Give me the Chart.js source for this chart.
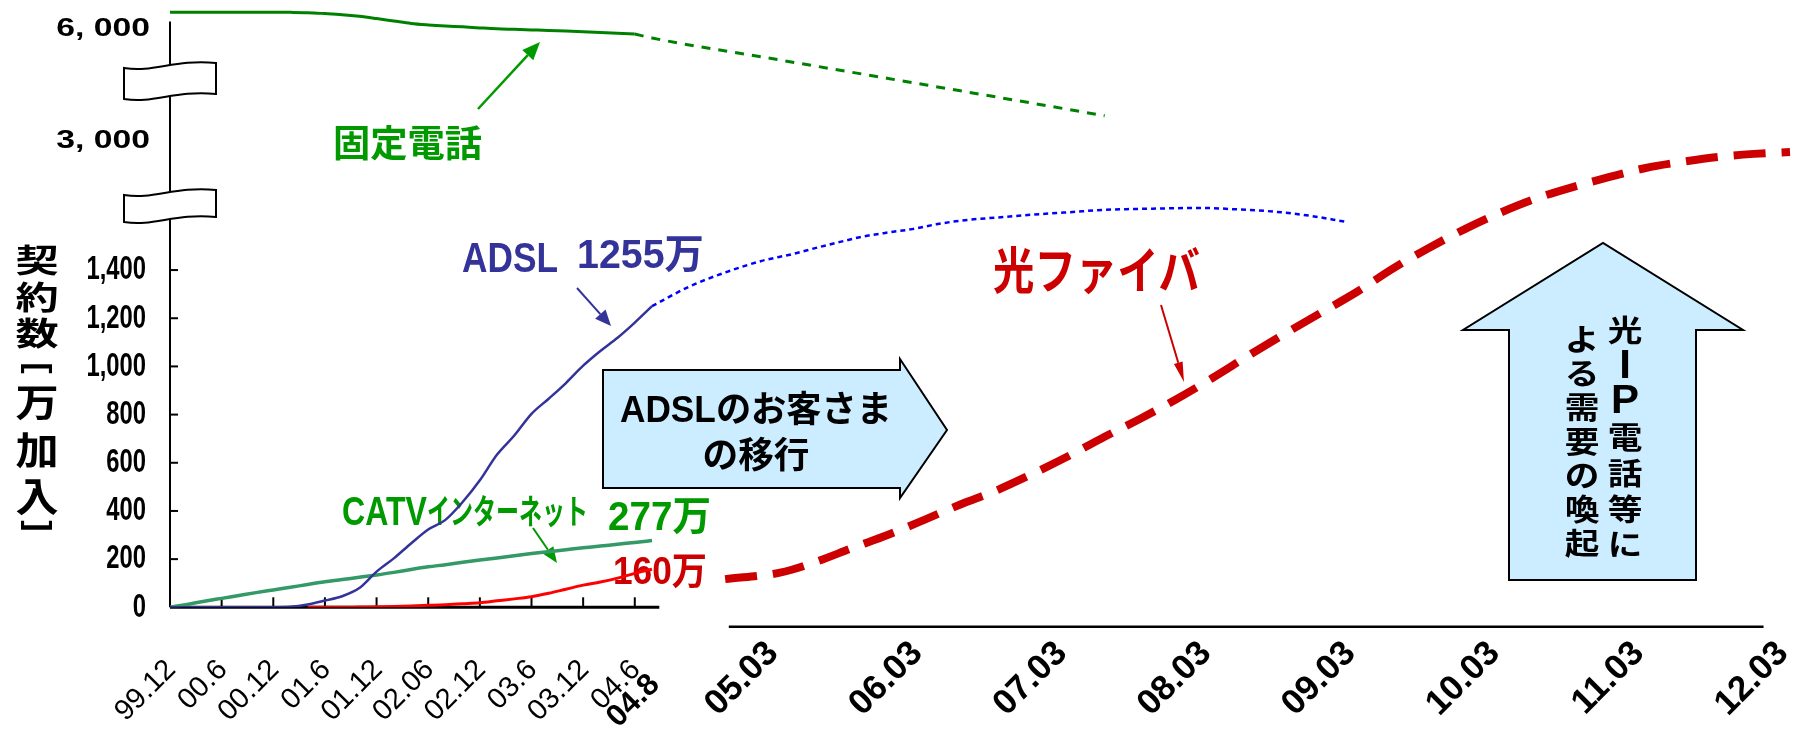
<!DOCTYPE html>
<html lang="ja">
<head>
<meta charset="utf-8">
<title>ブロードバンド契約数の推移</title>
<script src="https://cdn.jsdelivr.net/npm/chart.js@4.4.1/dist/chart.umd.min.js"></script>
<style>
  html, body { margin: 0; padding: 0; background: #fff; }
  #wrap { width: 1798px; height: 734px; }
</style>
</head>
<body>
<div id="wrap"><canvas id="chart" width="1798" height="734"></canvas></div>
<script>
// === Data (万加入) — months counted from 1999.12 (= 0) ===
const actualMonths = [0, 2, 4, 6, 8, 10, 12, 14, 16, 18, 20, 22, 24, 26, 28, 30, 32, 34, 36, 38, 40, 42, 44, 46, 48, 50, 52, 54, 56];
const phoneActual = [6450, 6450, 6450, 6450, 6450, 6450, 6450, 6448, 6440, 6415, 6385, 6340, 6280, 6215, 6150, 6110, 6080, 6058, 6030, 6005, 5990, 5975, 5960, 5943, 5925, 5905, 5885, 5866, null];
const adslActual = [0, 0, 0, 0, 0, 0, 0, 2, 12, 28, 46, 80, 148, 203, 265, 323, 363, 437, 527, 634, 713, 803, 866, 931, 1003, 1064, 1119, 1182, 1250];
const catvActual = [0, 12, 25, 37, 49, 61, 72, 83, 95, 106, 115, 125, 134, 145, 157, 168, 177, 187, 196, 205, 214, 223, 231, 239, 247, 254, 262, 269, 277];
const fiberActual = [null, null, null, null, null, null, null, null, 0, 0, 0, 1, 2, 3, 5, 8, 11, 15, 19, 27, 35, 44, 58, 75, 92, 105, 121, 141, 158];

// forecasts
const phoneFcMonths = [54, 56, 63, 72, 81, 90];
const phoneForecast = [5866, 5759, 5168, 4671, 4174, 3671];
const adslFcMonths = [56, 58, 60, 62, 64, 66, 68, 70, 72, 74, 76, 78, 81, 84, 87, 90, 94, 98, 101, 104, 107, 110];
const adslForecast = [1250, 1330, 1390, 1438, 1466, 1492, 1517, 1540, 1556, 1570, 1590, 1605, 1618, 1630, 1640, 1650, 1655, 1658, 1652, 1643, 1626, 1601];
const fiberFcMonths = [60, 63, 66, 69, 72, 75, 78, 81, 84, 87, 90, 93, 96, 99, 102, 105, 108, 111, 114, 117, 120, 123, 126, 129, 132, 135, 138, 141, 144, 147];
const fiberForecast = [117, 144, 189, 246, 301, 363, 427, 485, 554, 628, 708, 784, 865, 953, 1046, 1136, 1223, 1310, 1407, 1493, 1571, 1640, 1699, 1950, 2174, 2379, 2518, 2630, 2700, 2743];

// ticks
const leftTickMonths = [0, 6, 12, 18, 24, 30, 36, 42, 48, 54, 56];
const leftTickLabels = ['99.12', '00.6', '00.12', '01.6', '01.12', '02.06', '02.12', '03.6', '03.12', '04.6', '04.8'];
const rightTickMonths = [63, 75, 87, 99, 111, 123, 135, 147];
const rightTickLabels = ['05.03', '06.03', '07.03', '08.03', '09.03', '10.03', '11.03', '12.03'];
const yTickValues = [0, 200, 400, 600, 800, 1000, 1200, 1400, 3000, 6000];
const yTickLabels = ['0', '200', '400', '600', '800', '1,000', '1,200', '1,400', '3, 000', '6, 000'];

// === Fonts / styles ===
const FONT_JP = '"Noto Sans CJK JP", sans-serif';
const FONT_LAT = '"Liberation Sans", "Noto Sans CJK JP", sans-serif';
const BOX_FILL = '#ccecff';

// === Broken / piecewise scale ===
class KnotScale extends Chart.LinearScale {
  static id = 'knot';
  static defaults = Chart.LinearScale.defaults;

  knotPos(v) {
    const k = this.options.knots;
    let i = 1;
    while (i < k.length - 1 && v > k[i][0]) i++;
    const [v0, p0] = k[i - 1], [v1, p1] = k[i];
    return p0 + (v - v0) / (v1 - v0) * (p1 - p0);
  }
  getPixelForValue(value) {
    const [s0, s1] = this.options.span;
    return this.getPixelForDecimal((this.knotPos(value) - s0) / (s1 - s0));
  }
  getValueForPixel(pixel) {
    const [s0, s1] = this.options.span;
    const k = this.options.knots;
    const p = s0 + this.getDecimalForPixel(pixel) * (s1 - s0);
    const up = k[k.length - 1][1] > k[0][1];
    let i = 1;
    while (i < k.length - 1 && (up ? p > k[i][1] : p < k[i][1])) i++;
    const [v0, p0] = k[i - 1], [v1, p1] = k[i];
    return v0 + (p - p0) / (p1 - p0) * (v1 - v0);
  }
}
Chart.register(KnotScale);

// === Helpers ===
function fitText(ctx, text, x, y, o) {
  ctx.save();
  ctx.font = o.font;
  ctx.fillStyle = o.color || '#000';
  ctx.textBaseline = o.base || 'alphabetic';
  ctx.textAlign = 'left';
  const w = ctx.measureText(text).width;
  const sx = o.width ? o.width / w : (o.sx || 1);
  const dw = w * sx;
  const left = o.align === 'center' ? x - dw / 2 : o.align === 'right' ? x - dw : x;
  ctx.translate(left, y);
  ctx.scale(sx, o.sy || 1);
  ctx.fillText(text, 0, 0);
  ctx.restore();
}

function arrow(ctx, x1, y1, x2, y2, color, lw, len, hw) {
  const a = Math.atan2(y2 - y1, x2 - x1);
  const bx = x2 - len * Math.cos(a), by = y2 - len * Math.sin(a);
  ctx.save();
  ctx.strokeStyle = color;
  ctx.fillStyle = color;
  ctx.lineWidth = lw;
  ctx.beginPath(); ctx.moveTo(x1, y1); ctx.lineTo(bx, by); ctx.stroke();
  ctx.beginPath();
  ctx.moveTo(x2, y2);
  ctx.lineTo(bx + hw / 2 * Math.sin(a), by - hw / 2 * Math.cos(a));
  ctx.lineTo(bx - hw / 2 * Math.sin(a), by + hw / 2 * Math.cos(a));
  ctx.closePath(); ctx.fill();
  ctx.restore();
}

function shape(ctx, pts) {
  ctx.save();
  ctx.beginPath();
  pts.forEach(([x, y], i) => i ? ctx.lineTo(x, y) : ctx.moveTo(x, y));
  ctx.closePath();
  ctx.fillStyle = BOX_FILL; ctx.fill();
  ctx.strokeStyle = '#000'; ctx.lineWidth = 2; ctx.stroke();
  ctx.restore();
}

function breakMark(ctx, cx, top, h) {
  const L = cx - 46, R = cx + 46;
  ctx.save();
  ctx.beginPath();
  ctx.moveTo(L, top + 5);
  ctx.bezierCurveTo(L + 30, top + 10, L + 50, top - 4, R, top);
  ctx.lineTo(R, top + h);
  ctx.bezierCurveTo(L + 50, top + h - 4, L + 30, top + h + 10, L, top + h + 5);
  ctx.closePath();
  ctx.fillStyle = '#fff'; ctx.fill();
  ctx.strokeStyle = '#000'; ctx.lineWidth = 2; ctx.stroke();
  ctx.restore();
}

// rotated tick label; (x, y) is the upper-right corner of the text
function rotLabel(ctx, text, x, y, size, weight) {
  ctx.save();
  ctx.translate(x, y);
  ctx.rotate(-Math.PI / 4);
  ctx.font = `${weight} ${size}px "Liberation Sans", sans-serif`;
  ctx.fillStyle = '#000';
  ctx.textAlign = 'right';
  ctx.textBaseline = 'alphabetic';
  ctx.fillText(text, 0, size * 0.72);
  ctx.restore();
}

function vertText(ctx, text, x, y0, pitch, sy) {
  ctx.save();
  ctx.fillStyle = '#000';
  ctx.textAlign = 'center';
  ctx.textBaseline = 'middle';
  [...text].forEach((ch, i) => {
    const latin = ch.charCodeAt(0) < 128;
    ctx.save();
    ctx.translate(x, y0 + i * pitch);
    ctx.font = latin ? 'bold 40px "Liberation Sans", sans-serif' : `bold 33px ${FONT_JP}`;
    ctx.scale(1.05, latin ? 1 : sy);
    ctx.fillText(ch, 0, latin ? 1 : 0);
    ctx.restore();
  });
  ctx.restore();
}

// === Decorations: axes, breaks, labels, callouts ===
const decor = {
  id: 'decor',
  beforeDatasetsDraw(chart) {
    const ctx = chart.ctx;
    const xs = chart.scales.x, ys = chart.scales.y;
    const x0 = xs.getPixelForValue(0), y0 = ys.getPixelForValue(0);

    ctx.save();
    ctx.strokeStyle = '#000';
    ctx.lineCap = 'butt';

    // y axis
    ctx.lineWidth = 2;
    ctx.beginPath(); ctx.moveTo(x0, ys.getPixelForValue(6200)); ctx.lineTo(x0, y0); ctx.stroke();
    yTickValues.forEach(v => {
      if (v > 0 && v <= 1400) {
        const y = ys.getPixelForValue(v);
        ctx.beginPath(); ctx.moveTo(x0, y); ctx.lineTo(x0 + 8, y); ctx.stroke();
      }
    });
    breakMark(ctx, x0, 63, 31);
    breakMark(ctx, x0, 190, 27);

    // left x axis (results)
    ctx.lineWidth = 3;
    ctx.beginPath(); ctx.moveTo(x0, y0); ctx.lineTo(xs.getPixelForValue(56.4), y0); ctx.stroke();
    ctx.lineWidth = 2;
    leftTickMonths.slice(1, -1).forEach(m => {
      const x = xs.getPixelForValue(m);
      ctx.beginPath(); ctx.moveTo(x, y0); ctx.lineTo(x, y0 - 10); ctx.stroke();
    });
    // right x axis (forecast)
    ctx.lineWidth = 2.5;
    ctx.beginPath();
    ctx.moveTo(xs.getPixelForValue(60.2), y0 + 19.5);
    ctx.lineTo(xs.getPixelForValue(144.8), y0 + 19.5);
    ctx.stroke();
    ctx.restore();

    // y tick labels
    yTickValues.forEach((v, i) => {
      const y = ys.getPixelForValue(v);
      if (v <= 1400) {
        fitText(ctx, yTickLabels[i], 146, y, { font: `bold 34px ${FONT_LAT}`, base: 'middle', align: 'right', sx: 0.7 });
      } else {
        fitText(ctx, yTickLabels[i], 150, y, { font: `bold 25px ${FONT_LAT}`, base: 'middle', align: 'right', sx: 1.35 });
      }
    });

    // x tick labels
    leftTickMonths.forEach((m, i) => {
      const last = i === leftTickMonths.length - 1;
      const size = last ? 31 : 29;
      const x = xs.getPixelForValue(m) + (last ? 9 : 7) - 0.51 * size;
      rotLabel(ctx, leftTickLabels[i], x, last ? 670 : 656, size, last ? 'bold' : 'normal');
    });
    rightTickMonths.forEach((m, i) => {
      rotLabel(ctx, rightTickLabels[i], xs.getPixelForValue(m) - 18, 637, 35, 'bold');
    });

    // y title (vertical)
    [['契', 260, 0.8], ['約', 297, 0.8], ['数', 333, 0.8],
     ['万', 402, 0.95], ['加', 450, 0.95], ['入', 496, 1.0]].forEach(([ch, y, sy]) => {
      fitText(ctx, ch, 37, y, { font: `bold 40px ${FONT_JP}`, base: 'middle', align: 'center', sx: 1.08, sy });
    });
    [['[', 368], [']', 526]].forEach(([ch, y]) => {
      ctx.save();
      ctx.translate(37, y);
      ctx.rotate(Math.PI / 2);
      ctx.font = `bold 34px ${FONT_LAT}`;
      ctx.fillStyle = '#000';
      ctx.textAlign = 'center';
      ctx.textBaseline = 'middle';
      ctx.fillText(ch, 0, 0);
      ctx.restore();
    });

    // callout arrows (boxes)
    shape(ctx, [[603, 370], [900, 370], [900, 359], [947, 430], [900, 498], [900, 488], [603, 488]]);
    fitText(ctx, 'ADSLのお客さま', 756, 421.5, { font: `bold 36px ${FONT_LAT}`, align: 'center', width: 272 });
    fitText(ctx, 'の移行', 756, 468, { font: `bold 36px ${FONT_JP}`, align: 'center', width: 107 });

    shape(ctx, [[1509, 580], [1509, 330], [1463, 330], [1603, 243], [1743, 330], [1696, 330], [1696, 580]]);
    vertText(ctx, '光IP電話等に', 1625, 330, 35.7, 0.9);
    vertText(ctx, 'よる需要の喚起', 1582, 339, 34, 0.9);

    // series labels
    fitText(ctx, '固定電話', 333, 143, { font: `bold 37px ${FONT_JP}`, color: '#009900', base: 'middle', width: 149 });
    arrow(ctx, 478, 109, 540, 42, '#009900', 2.5, 18, 15);

    fitText(ctx, 'ADSL', 462, 272, { font: `bold 42px ${FONT_LAT}`, color: '#333399', width: 96 });
    fitText(ctx, '1255万', 577, 268, { font: `bold 40px ${FONT_LAT}`, color: '#333399', width: 127 });
    arrow(ctx, 577, 288, 611, 326, '#333399', 2, 16, 14);

    fitText(ctx, 'CATV', 342, 525, { font: `bold 41px ${FONT_LAT}`, color: '#009900', width: 85 });
    fitText(ctx, 'インターネット', 427, 511, { font: `bold 34px ${FONT_JP}`, color: '#009900', base: 'middle', width: 161 });
    fitText(ctx, '277万', 608, 530, { font: `bold 40px ${FONT_LAT}`, color: '#009900', width: 103 });
    arrow(ctx, 533, 528, 557, 563, '#009900', 2, 16, 13);

    fitText(ctx, '160万', 613, 584, { font: `bold 38px ${FONT_LAT}`, color: '#cc0000', width: 94 });

    fitText(ctx, '光ファイバ', 993, 270, { font: `bold 50px ${FONT_JP}`, color: '#cc0000', base: 'middle', width: 207 });
    arrow(ctx, 1161, 305, 1184, 382, '#cc0000', 2, 20, 9);
  }
};

// === Chart ===
const pts = (xv, yv) => xv.map((x, i) => ({ x, y: yv[i] })).filter(p => p.y !== null);

new Chart(document.getElementById('chart'), {
  type: 'line',
  data: {
    datasets: [
      { label: '光ファイバ', data: pts(actualMonths, fiberActual), borderColor: '#ff0000', borderWidth: 3 },
      { label: 'ADSL', data: pts(actualMonths, adslActual), borderColor: '#333399', borderWidth: 2.5 },
      { label: 'CATVインターネット', data: pts(actualMonths, catvActual), borderColor: '#339966', borderWidth: 3.5 },
      { label: '固定電話', data: pts(actualMonths, phoneActual), borderColor: '#008000', borderWidth: 3 },
      { label: '固定電話（予測）', data: pts(phoneFcMonths, phoneForecast), borderColor: '#008000', borderWidth: 3, borderDash: [9, 8] },
      { label: 'ADSL（予測）', data: pts(adslFcMonths, adslForecast), borderColor: '#0000ff', borderWidth: 2.5, borderDash: [5, 4] },
      { label: '光ファイバ（予測）', data: pts(fiberFcMonths, fiberForecast), borderColor: '#cc0000', borderWidth: 8, borderDash: [32, 16] }
    ]
  },
  options: {
    responsive: false,
    animation: false,
    events: [],
    layout: { padding: { left: 170, right: 2, top: 6.7, bottom: 126.7 } },
    elements: {
      point: { radius: 0 },
      line: { cubicInterpolationMode: 'monotone', fill: false, borderCapStyle: 'butt' }
    },
    plugins: { legend: { display: false }, tooltip: { enabled: false } },
    scales: {
      x: {
        type: 'knot', display: false, min: 0, max: 148,
        knots: [[0, 170], [56, 652], [63, 780], [147, 1790]],
        span: [170, 1796]
      },
      y: {
        type: 'knot', display: false, min: 0, max: 6600,
        knots: [[0, 607.3], [1700, 197.8], [3000, 140.7], [6000, 29], [6600, 6.7]],
        span: [607.3, 6.7]
      }
    }
  },
  plugins: [decor]
});
</script>
</body>
</html>
